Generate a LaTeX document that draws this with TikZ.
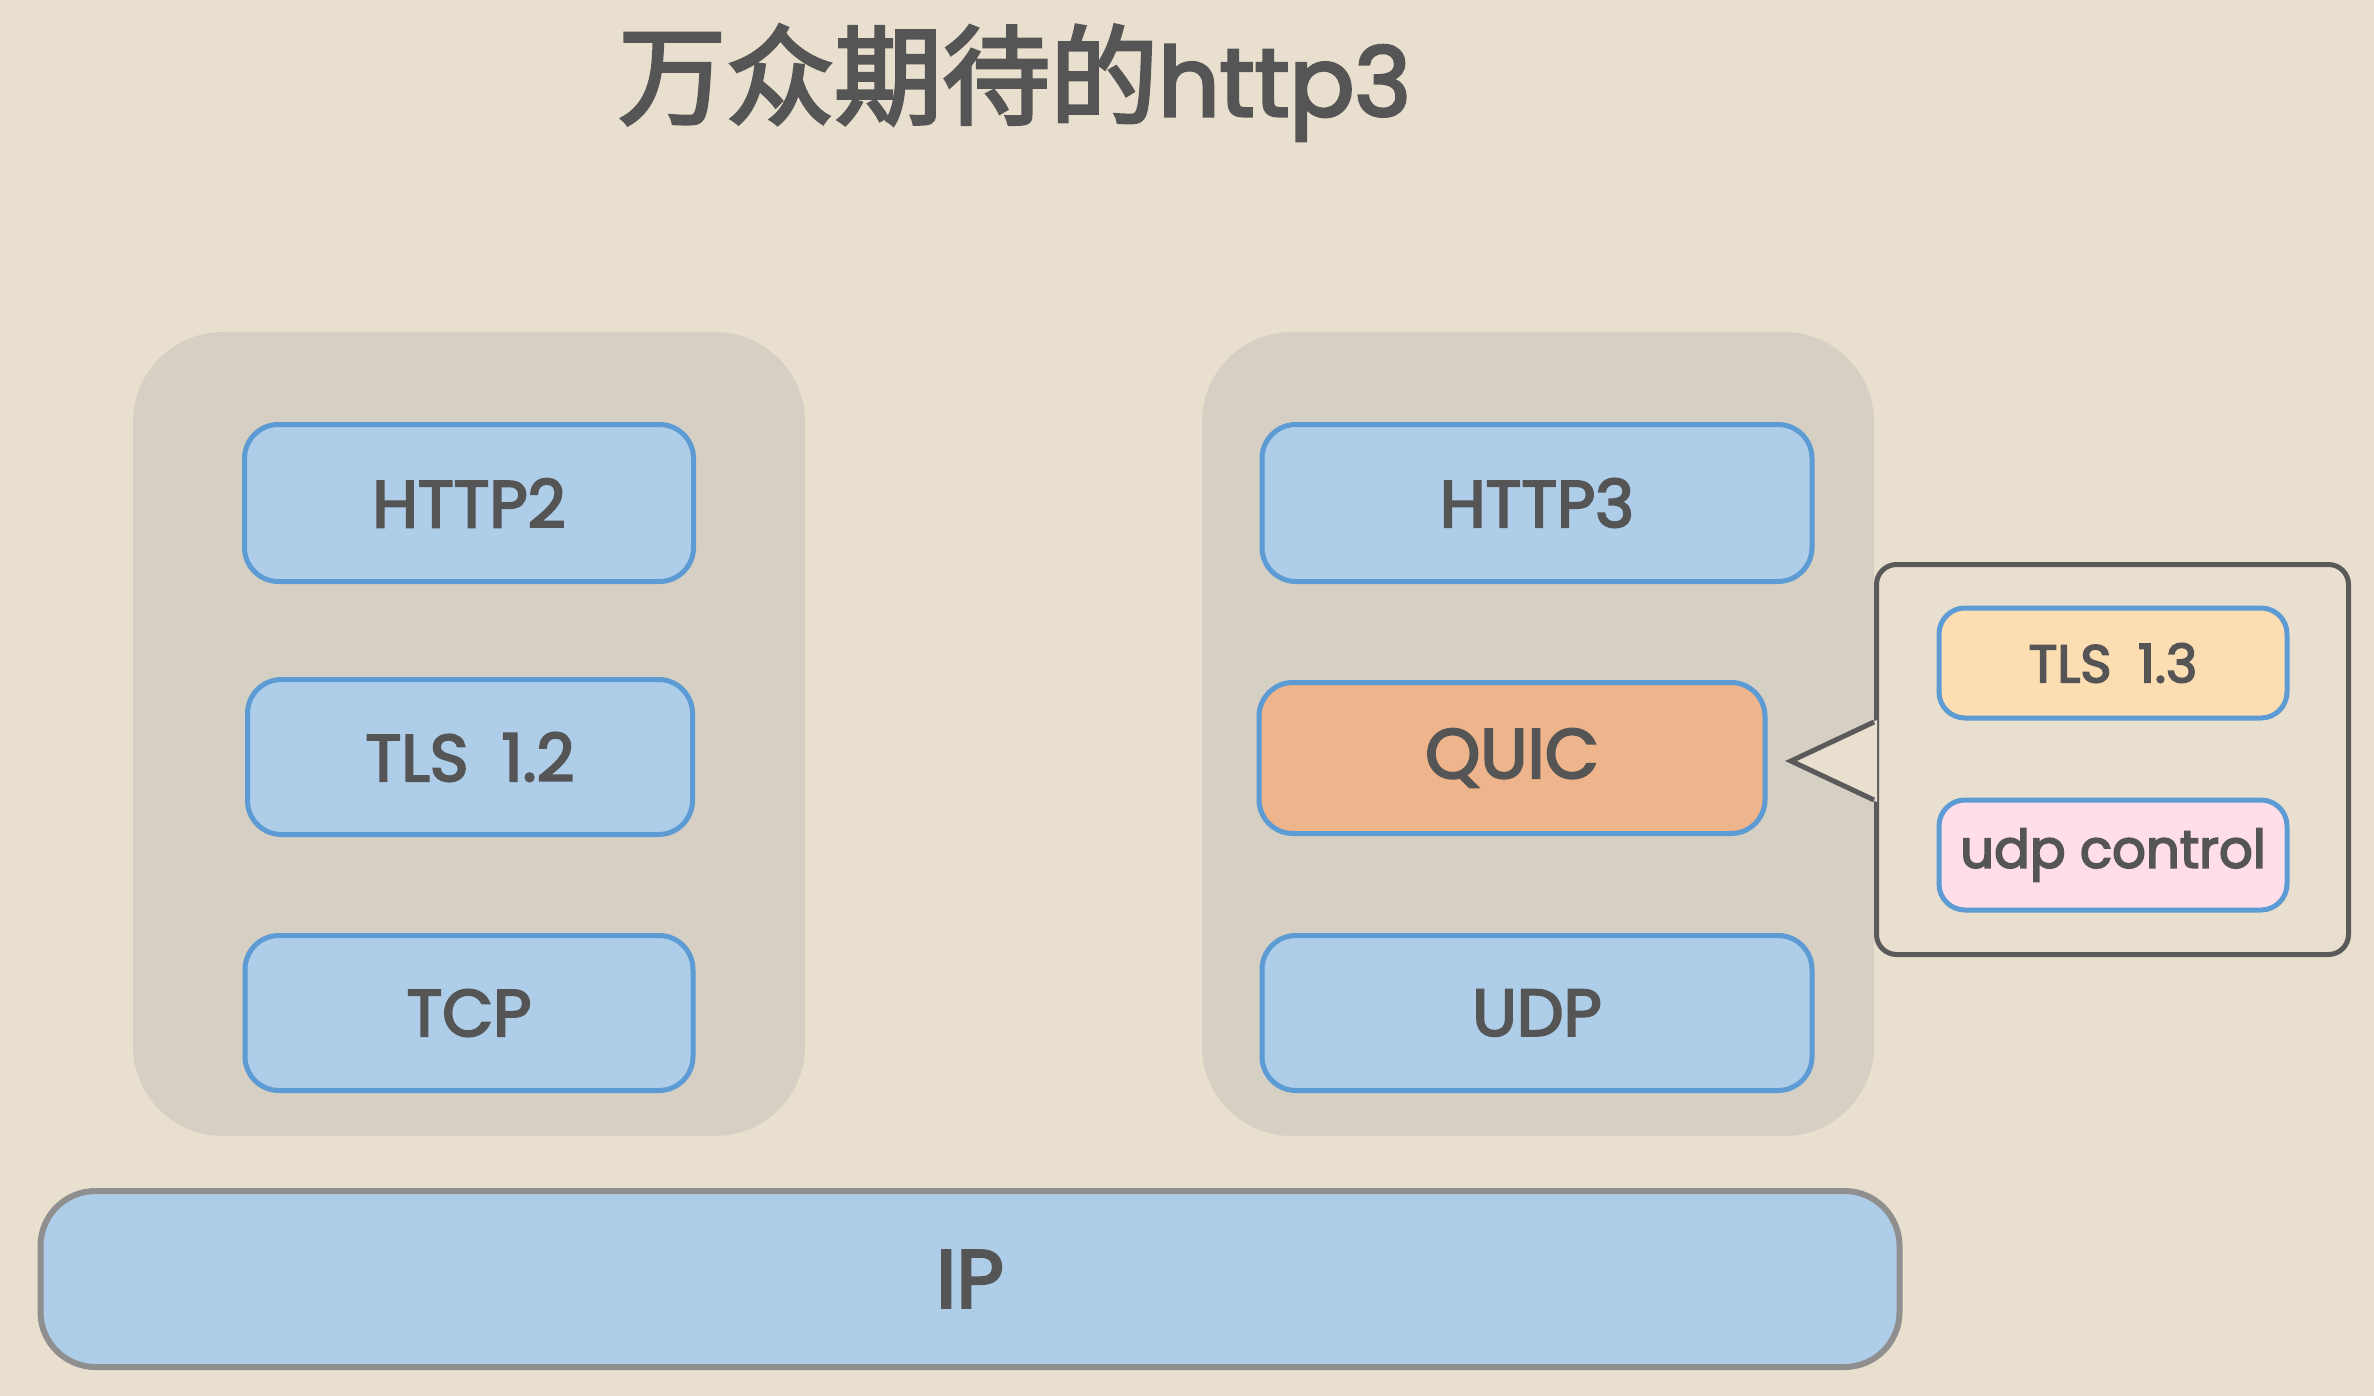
\documentclass[tikz,border=0pt]{standalone}
\usepackage{fontspec}
\usetikzlibrary{calc}
\setmainfont{Poppins}
\newfontfamily\labfont{Poppins}[FakeBold=3.2]
\newfontfamily\cjk{Noto Sans CJK SC}[FakeBold=3]
\definecolor{bg}{HTML}{E8DFCE}
\definecolor{grp}{HTML}{D6CFC3}
\definecolor{boxfill}{HTML}{AECDE8}
\definecolor{boxline}{HTML}{5D9BD5}
\definecolor{quicfill}{HTML}{EEB48B}
\definecolor{tlsfill}{HTML}{FDDEB3}
\definecolor{udpcfill}{HTML}{FFDEE9}
\definecolor{txt}{HTML}{555555}
\definecolor{ipline}{HTML}{8F8F8F}
\definecolor{coline}{HTML}{5A5A5A}
\begin{document}
\begin{tikzpicture}[x=1pt,y=-1pt,
  grpbox/.style={fill=grp, rounded corners=90pt, minimum width=672pt, minimum height=804pt, inner sep=0pt},
  layer/.style={draw=boxline, fill=boxfill, line width=5pt, rounded corners=34pt, inner sep=0pt,
     text=txt, font=\labfont\fontsize{66}{70}\selectfont},
  smalllayer/.style={layer, rounded corners=26pt, minimum width=348pt, minimum height=110pt,
     font=\labfont\fontsize{53}{60}\selectfont},
  calloutbox/.style={draw=coline, fill=bg, line width=5pt, rounded corners=20pt, inner sep=0pt},
  ipbox/.style={draw=ipline, fill=boxfill, line width=6pt, rounded corners=55pt, inner sep=0pt,
     text=txt, font=\labfont\fontsize{82}{86}\selectfont}
]
\useasboundingbox (0,0) rectangle (2374,1396);
\fill[bg] (0,0) rectangle (2374,1396);

% title
\node[anchor=base west, text=txt, inner sep=0pt] (title) at (618,116)
  {{\cjk\fontsize{108}{108}\selectfont 万众期待的}{\labfont\fontsize{96}{100}\selectfont http3}};

% group backgrounds
\node[grpbox] (lgrp) at (469,734) {};
\node[grpbox] (rgrp) at (1538,734) {};

% left stack
\node[layer, minimum width=449pt, minimum height=157pt] (http2) at (469,503) {HTTP2};
\node[layer, minimum width=445pt, minimum height=155pt] (tls12) at (470,757) {TLS\hspace{0.5em}1.2};
\node[layer, minimum width=448pt, minimum height=155pt] (tcp) at (469,1013) {TCP};

% right stack
\node[layer, minimum width=550pt, minimum height=157pt] (http3) at (1537,503) {HTTP3};
\node[layer, fill=quicfill, minimum width=506pt, minimum height=151pt, font=\labfont\fontsize{70}{74}\selectfont] (quic) at (1512,758) {QUIC};
\node[layer, minimum width=550pt, minimum height=155pt] (udp) at (1537,1013) {UDP};

% callout
\node[calloutbox, minimum width=472pt, minimum height=390pt] (co) at (2112.5,759.5) {};
\coordinate (pa) at (1874,722);
\coordinate (ptip) at (1791,761);
\coordinate (pb) at (1874,800);
\fill[bg] ($(pa)+(3,-2)$) -- (ptip) -- ($(pb)+(3,2)$) -- cycle;
\draw[coline, line width=5pt, line join=miter] (pa) -- (ptip) -- (pb);

\node[smalllayer, fill=tlsfill] (tls13) at (2113,663) {TLS\hspace{0.5em}1.3};
\node[smalllayer, fill=udpcfill] (udpc) at (2113,855) {udp control};

% IP
\node[ipbox, minimum width=1859pt, minimum height=176pt] (ip) at (970,1279) {IP};
\end{tikzpicture}
\end{document}
